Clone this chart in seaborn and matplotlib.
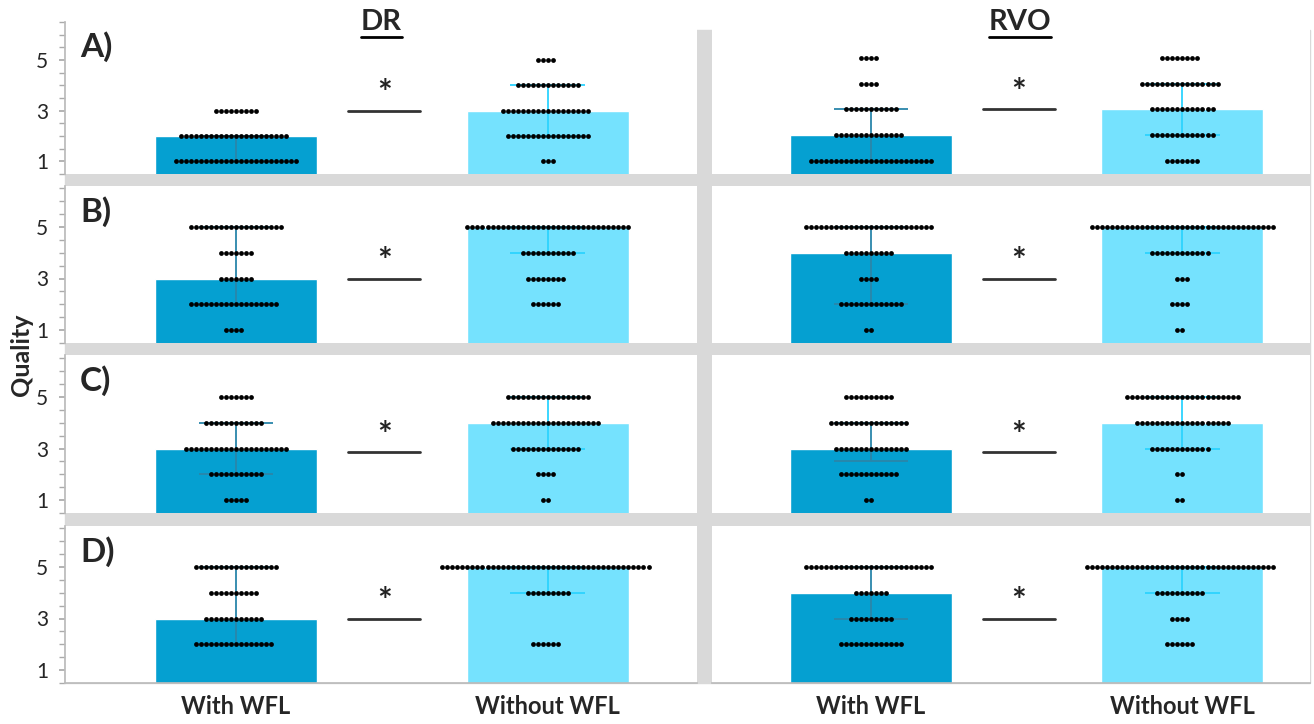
import warnings
import numpy as np
import pandas as pd
import matplotlib
matplotlib.use('Agg')
import matplotlib.pyplot as plt
import seaborn as sns
from matplotlib.patches import Rectangle
from matplotlib.lines import Line2D

warnings.filterwarnings('ignore')

# quality scores 1..5, number of graders per score
levels = [1, 2, 3, 4, 5]
groups = ['With WFL', 'Without WFL']
diseases = ['DR', 'RVO']
panel_labels = ['A)', 'B)', 'C)', 'D)']

a_dr_with = [25, 22, 9, 0, 0]
a_dr_without = [3, 17, 18, 13, 4]
a_rvo_with = [25, 14, 11, 4, 4]
a_rvo_without = [7, 13, 13, 16, 8]

b_dr_with = [4, 18, 7, 7, 19]
b_dr_without = [0, 6, 8, 11, 33]
b_rvo_with = [2, 13, 4, 10, 26]
b_rvo_without = [2, 4, 3, 12, 37]

c_dr_with = [5, 11, 21, 12, 7]
c_dr_without = [2, 4, 14, 22, 17]
c_rvo_with = [2, 12, 15, 16, 10]
c_rvo_without = [2, 2, 12, 19, 23]

d_dr_with = [0, 16, 12, 10, 17]
d_dr_without = [0, 6, 0, 9, 42]
d_rvo_with = [0, 13, 9, 7, 26]
d_rvo_without = [0, 6, 4, 10, 38]

panels = [
    [(a_dr_with, a_dr_without), (a_rvo_with, a_rvo_without)],
    [(b_dr_with, b_dr_without), (b_rvo_with, b_rvo_without)],
    [(c_dr_with, c_dr_without), (c_rvo_with, c_rvo_without)],
    [(d_dr_with, d_dr_without), (d_rvo_with, d_rvo_without)],
]
sig_y = [3.0, 3.0, 2.85, 3.0]

bar_colors = ['#05A0D1', '#75E2FE']
err_colors = ['#2A86AA', '#2CD3FF']
grey = '#D9D9D9'

sns.set_theme(style='white')
plt.rcParams['font.family'] = ['Lato', 'DejaVu Sans']

W, H = 1314, 724
fig = plt.figure(figsize=(W / 100, H / 100), dpi=100)


def fx(px):
    return px / W


def fy(py):
    return 1 - py / H


rows_px = [(22, 174), (186, 343), (355, 513), (526, 683)]
cols_px = [(65, 697), (712, 1310)]
xlims = [(-0.548, 1.478), (-0.511, 1.41)]

fig.add_artist(Rectangle((fx(65), fy(683)), fx(1310) - fx(65), fy(30) - fy(683),
                         transform=fig.transFigure, color=grey, zorder=-1))

for r, (y0, y1) in enumerate(rows_px):
    for c, (x0, x1) in enumerate(cols_px):
        ax = fig.add_axes([fx(x0), fy(y1), fx(x1) - fx(x0), (y1 - y0) / H])
        ax.set_facecolor('white')
        with_counts, without_counts = panels[r][c]
        vals = [np.repeat(levels, with_counts), np.repeat(levels, without_counts)]
        df = pd.DataFrame({
            'group': np.repeat(groups, [len(v) for v in vals]),
            'quality': np.concatenate(vals),
        })
        sns.barplot(data=df, x='group', y='quality', order=groups, hue='group',
                    hue_order=groups, palette=bar_colors, estimator='median',
                    errorbar=None, width=0.52, saturation=1, legend=False, ax=ax)
        for i, v in enumerate(vals):
            q1, q3 = np.percentile(v, [25, 75])
            ax.vlines(i, q1, q3, color=err_colors[i], lw=1.3, zorder=3)
            ax.hlines([q1, q3], i - 0.12, i + 0.12, color=err_colors[i], lw=1.3, zorder=3)
        ax.set_xlim(*xlims[c])
        ax.set_ylim(0.5, 0.5 + (y1 - y0) / 25.8)
        sns.swarmplot(data=df, x='group', y='quality', order=groups, color='black',
                      size=3.45, ax=ax, zorder=4)
        ax.set_xlim(*xlims[c])
        ax.set_ylim(0.5, 0.5 + (y1 - y0) / 25.8)

        ax.plot([0.36, 0.59], [sig_y[r], sig_y[r]], color='#333333', lw=2, zorder=5)
        ax.text(0.475, sig_y[r] + 0.02, '*', ha='center', va='bottom', fontsize=25,
                fontweight='bold', color='#222222')

        ax.set_xlabel('')
        ax.set_ylabel('')
        for s in ax.spines.values():
            s.set_visible(False)
        if c == 0:
            ax.spines['left'].set_visible(True)
            ax.spines['left'].set_color('#BBBBBB')
            ax.set_yticks([1, 3, 5])
            ax.set_yticks(np.arange(0.5, 6.6, 0.5), minor=True)
            ax.tick_params(axis='y', which='both', left=True, direction='out',
                           length=4, color='#AAAAAA', labelsize=15, pad=8)
            ax.text(0.024, 0.84, panel_labels[r], transform=ax.transAxes, ha='left',
                    va='center', fontsize=24, fontweight='bold')
        else:
            ax.set_yticks([])
        if r == 3:
            ax.spines['bottom'].set_visible(True)
            ax.spines['bottom'].set_color('#BBBBBB')
            ax.tick_params(axis='x', length=0, labelsize=17, pad=9)
            for lab in ax.get_xticklabels():
                lab.set_fontweight('bold')
        else:
            ax.tick_params(axis='x', labelbottom=False, bottom=False)

titles = []
for name, xc in zip(diseases, [381, 1020]):
    titles.append(fig.text(fx(xc), fy(22), name, ha='center', va='center',
                           fontsize=21, fontweight='bold'))
fig.text(fx(22), fy(355), 'Quality', rotation=90, ha='center', va='center',
         fontsize=18, fontweight='bold')

fig.canvas.draw()
renderer = fig.canvas.get_renderer()
for t in titles:
    bb = t.get_window_extent(renderer)
    yline = (bb.y0 - 2) / H
    fig.add_artist(Line2D([bb.x0 / W, bb.x1 / W], [yline, yline],
                          transform=fig.transFigure, color='black', lw=2))

fig.savefig('out.png', dpi=100)
